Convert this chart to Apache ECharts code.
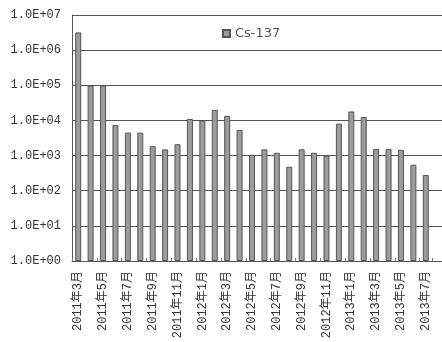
<!DOCTYPE html>
<html>
<head>
<meta charset="utf-8">
<script src="https://cdn.jsdelivr.net/npm/echarts@6/dist/echarts.min.js"></script>
<style>
  html, body { margin: 0; padding: 0; background: #fff; }
  #chart { width: 442px; height: 342px; }
</style>
</head>
<body>
<div id="chart"></div>
<script>
// Monthly Cs-137 values, March 2011 to July 2013
const months = [
  '2011年3月', '2011年4月', '2011年5月', '2011年6月', '2011年7月', '2011年8月',
  '2011年9月', '2011年10月', '2011年11月', '2011年12月', '2012年1月', '2012年2月',
  '2012年3月', '2012年4月', '2012年5月', '2012年6月', '2012年7月', '2012年8月',
  '2012年9月', '2012年10月', '2012年11月', '2012年12月', '2013年1月', '2013年2月',
  '2013年3月', '2013年4月', '2013年5月', '2013年6月', '2013年7月'
];
const cs137 = [
  3200000, 98000, 98000, 7400, 4500, 4500,
  1850, 1500, 2100, 11000, 10000, 20000,
  13500, 5400, 1050, 1500, 1200, 480,
  1500, 1200, 1000, 8100, 18000, 12500,
  1550, 1550, 1450, 550, 280
];
const yTicks = ['1.0E+00', '1.0E+01', '1.0E+02', '1.0E+03', '1.0E+04', '1.0E+05', '1.0E+06', '1.0E+07'];

const monoFont = '"Liberation Mono", "Noto Sans CJK JP", monospace';
const lineColor = '#555';

const chart = echarts.init(document.getElementById('chart'), null, { renderer: 'canvas' });
chart.setOption({
  animation: false,
  backgroundColor: '#fff',
  legend: {
    left: 217, top: 22,
    icon: 'rect', itemWidth: 7, itemHeight: 7, itemGap: 2,
    textStyle: { fontSize: 13, color: '#555', fontFamily: '"DejaVu Sans", sans-serif' },
    data: ['Cs-137']
  },
  grid: [
    { left: 72, right: 10, top: 15, bottom: 81, containLabel: false },
    { left: 72, right: 0, top: 15, bottom: 81, containLabel: false }
  ],
  xAxis: [
    {
      type: 'category', data: months, gridIndex: 0,
      axisLine: { lineStyle: { color: lineColor, width: 1 } },
      axisTick: { show: true, inside: true, length: 3, lineStyle: { color: '#777' } },
      axisLabel: {
        rotate: 90, interval: 1, fontSize: 12, color: '#333', margin: 10,
        fontFamily: monoFont
      }
    },
    { type: 'category', data: [''], gridIndex: 1, show: false }
  ],
  yAxis: [
    {
      type: 'log', logBase: 10, min: 1, max: 10000000, gridIndex: 0,
      axisLine: { show: true, lineStyle: { color: lineColor, width: 1 } },
      axisTick: { show: false },
      splitLine: { show: false },
      axisLabel: {
        fontSize: 12, color: '#333', margin: 11, fontFamily: monoFont,
        formatter: v => yTicks[Math.round(Math.log10(v))]
      }
    },
    {
      type: 'log', logBase: 10, min: 1, max: 10000000, gridIndex: 1,
      axisLine: { show: false }, axisTick: { show: false }, axisLabel: { show: false },
      splitLine: { show: true, lineStyle: { color: lineColor, width: 1 } }
    }
  ],
  series: [
    {
      name: 'Cs-137', type: 'bar', data: cs137,
      xAxisIndex: 0, yAxisIndex: 0,
      barWidth: 6, z: 3,
      itemStyle: { color: '#9c9c9c', borderColor: '#555', borderWidth: 1 }
    }
  ]
});
</script>
</body>
</html>
